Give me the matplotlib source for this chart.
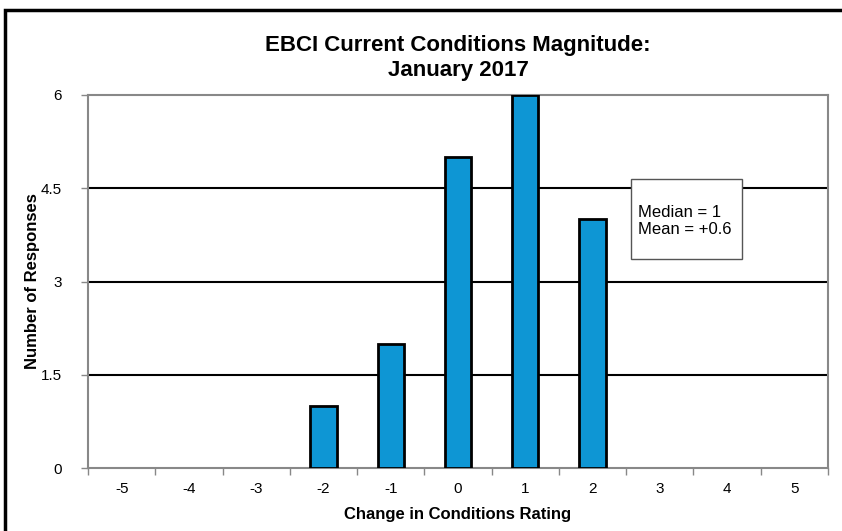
import matplotlib.pyplot as plt
from matplotlib.patches import Rectangle

plt.rcParams['font.family'] = ['Liberation Sans', 'DejaVu Sans']

ratings = [-5, -4, -3, -2, -1, 0, 1, 2, 3, 4, 5]
responses = [0, 0, 0, 1, 2, 5, 6, 4, 0, 0, 0]
yticks = [0, 1.5, 3, 4.5, 6]
ytick_labels = ['0', '1.5', '3', '4.5', '6']

fig = plt.figure(figsize=(8.42, 5.31), dpi=100)
ax = fig.add_axes([88 / 842, 63 / 531, 740 / 842, 373 / 531])

x = list(range(len(ratings)))
edges = ['black' if r > 0 else 'none' for r in responses]
ax.bar(x, responses, width=0.39, color='#0e96d4', edgecolor=edges, linewidth=2, zorder=3)

ax.set_xlim(-0.5, len(ratings) - 0.5)
ax.set_ylim(0, 6)
ax.set_xticks(x)
ax.set_xticklabels([str(r) for r in ratings], fontsize=11)
ax.set_xticks([i + 0.5 for i in range(-1, len(ratings))], minor=True)
ax.tick_params(axis='x', which='major', length=0, pad=10)
ax.tick_params(axis='x', which='minor', length=5, color='#888888', width=1)
ax.set_yticks(yticks)
ax.set_yticklabels(ytick_labels, fontsize=11)
ax.tick_params(axis='y', length=5, color='#888888', width=1, pad=14)

for v in yticks[1:-1]:
    ax.axhline(v, color='black', linewidth=1.5, zorder=1)
for s in ax.spines.values():
    s.set_color('#888888')
    s.set_linewidth(1.5)

ax.set_xlabel('Change in Conditions Rating', fontsize=12, fontweight='bold', labelpad=8)
fig.text(33 / 842, 1 - 281 / 531, 'Number of Responses', rotation=90, ha='center', va='center',
         fontsize=12, fontweight='bold')
fig.text(458 / 842, 1 - 58 / 531, 'EBCI Current Conditions Magnitude:\nJanuary 2017',
         ha='center', va='center', fontsize=16, fontweight='bold', linespacing=1.25)

ax.add_patch(Rectangle((0.734, 0.560), 0.15, 0.215, transform=ax.transAxes,
                       facecolor='white', edgecolor='#555555', linewidth=1, zorder=5))
ax.text(0.743, 0.662, 'Median = 1\nMean = +0.6', transform=ax.transAxes, fontsize=12,
        va='center', ha='left', zorder=6, linespacing=1.1)

fig.patches.append(Rectangle((5 / 842, -0.1), 1.2, 1 - 10 / 531 + 0.1, transform=fig.transFigure,
                             fill=False, edgecolor='black', linewidth=2.5))

fig.savefig('out.png', dpi=100)
